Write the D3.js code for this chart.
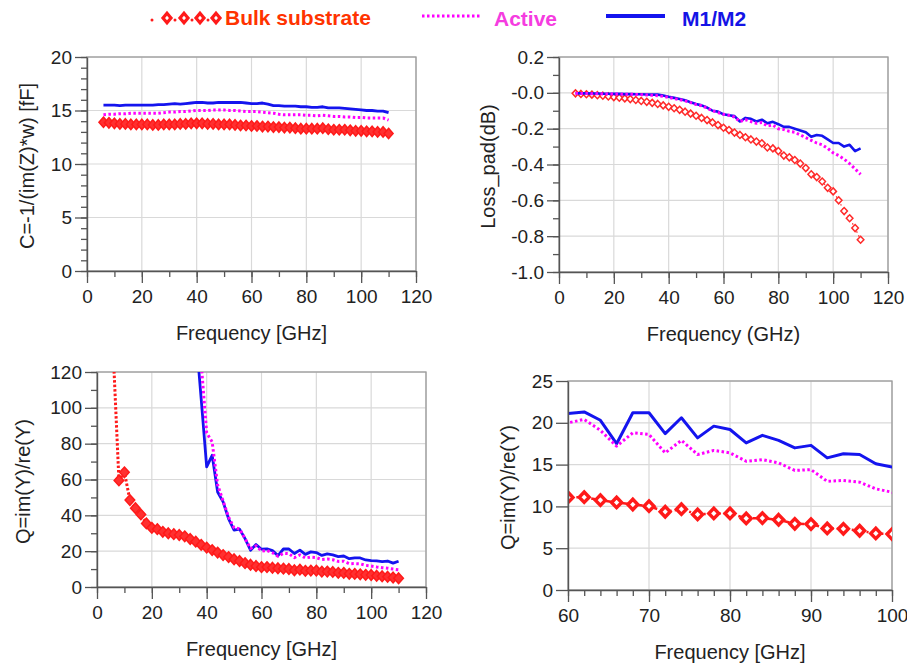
<!DOCTYPE html>
<html><head><meta charset="utf-8">
<script src="https://cdn.jsdelivr.net/npm/d3@7"></script>
<style>
body{margin:0;background:#fff}
svg{display:block}
text{font-family:Arial,"Liberation Sans",Helvetica,sans-serif}
</style>
</head><body>
<svg id="chart" width="907" height="664"></svg>
<script>
// ---------- data ----------
const seriesNames = ["Bulk substrate", "Active", "M1/M2"];
const freq = [6,8,10,12,14,16,18,20,22,24,26,28,30,32,34,36,38,40,42,44,46,48,50,52,54,56,58,60,62,64,66,68,70,72,74,76,78,80,82,84,86,88,90,92,94,96,98,100,102,104,106,108,110];

const capBulk = [13.9,13.85,13.8,13.75,13.75,13.7,13.7,13.7,13.7,13.65,13.65,13.7,13.7,13.7,13.75,13.75,13.8,13.8,13.8,13.75,13.75,13.7,13.7,13.7,13.65,13.6,13.6,13.55,13.55,13.5,13.5,13.45,13.45,13.4,13.4,13.35,13.3,13.3,13.3,13.3,13.35,13.25,13.2,13.2,13.2,13.15,13.1,13.1,13.05,13.05,13.0,13.0,12.85];
const capActive = [14.6,14.65,14.65,14.7,14.7,14.75,14.75,14.75,14.75,14.75,14.75,14.8,14.85,14.85,14.9,14.9,14.95,15.0,15.0,15.0,15.05,15.05,15.05,15.0,15.0,14.95,14.9,14.9,14.9,14.85,14.8,14.75,14.65,14.6,14.6,14.6,14.6,14.55,14.55,14.5,14.55,14.5,14.45,14.45,14.4,14.4,14.35,14.35,14.3,14.3,14.3,14.3,14.1];
const capM12 = [15.5,15.5,15.5,15.45,15.5,15.5,15.5,15.5,15.5,15.5,15.55,15.55,15.6,15.65,15.6,15.65,15.7,15.75,15.75,15.7,15.7,15.75,15.75,15.75,15.75,15.75,15.7,15.65,15.65,15.7,15.6,15.45,15.45,15.4,15.4,15.4,15.35,15.35,15.3,15.3,15.35,15.25,15.25,15.25,15.2,15.15,15.1,15.05,15.0,15.0,14.95,14.95,14.8];

const lossBulk = [-0.003,-0.006,-0.008,-0.01,-0.013,-0.016,-0.02,-0.024,-0.027,-0.031,-0.035,-0.04,-0.045,-0.05,-0.056,-0.062,-0.07,-0.078,-0.086,-0.095,-0.105,-0.116,-0.128,-0.14,-0.152,-0.165,-0.18,-0.195,-0.208,-0.222,-0.235,-0.248,-0.26,-0.272,-0.282,-0.305,-0.31,-0.325,-0.35,-0.36,-0.375,-0.395,-0.42,-0.455,-0.47,-0.495,-0.53,-0.55,-0.6,-0.66,-0.7,-0.755,-0.82];
const lossActive = [-0.003,-0.004,-0.004,-0.005,-0.005,-0.006,-0.006,-0.007,-0.007,-0.008,-0.008,-0.009,-0.01,-0.012,-0.014,-0.016,-0.02,-0.026,-0.032,-0.038,-0.045,-0.055,-0.065,-0.072,-0.085,-0.1,-0.11,-0.12,-0.125,-0.135,-0.16,-0.15,-0.16,-0.17,-0.165,-0.185,-0.18,-0.2,-0.205,-0.215,-0.22,-0.235,-0.25,-0.265,-0.28,-0.29,-0.31,-0.335,-0.35,-0.37,-0.395,-0.425,-0.455];
const lossM12 = [-0.002,-0.003,-0.003,-0.004,-0.004,-0.005,-0.005,-0.006,-0.006,-0.007,-0.007,-0.008,-0.008,-0.009,-0.01,-0.01,-0.015,-0.022,-0.028,-0.035,-0.042,-0.052,-0.062,-0.07,-0.082,-0.1,-0.105,-0.12,-0.125,-0.13,-0.16,-0.14,-0.145,-0.16,-0.15,-0.17,-0.162,-0.175,-0.19,-0.19,-0.2,-0.21,-0.22,-0.245,-0.235,-0.24,-0.26,-0.28,-0.28,-0.3,-0.29,-0.325,-0.31];

const qBulk = [128,59.5,64,48.5,44,40.5,35.5,33,32.3,30.8,30,29.5,29,28.3,26.8,25.3,23.5,22,20.6,19.2,17.8,16.7,15.5,14.5,13.3,12.4,11.7,11.07,11.1,10.75,10.47,10.23,10.03,9.36,9.67,9.04,9.16,9.16,8.56,8.6,8.4,7.92,7.88,7.36,7.32,7.09,6.77,6.69,6.3,6.0,5.7,5.3,4.9];
const qActive = [null,null,null,null,null,null,null,null,null,null,null,null,null,null,260,200,125,86,81,57,48,39,33,32.5,27,21.5,23,20.0,20.4,19.1,17.2,18.8,18.6,16.4,17.9,16.2,16.7,16.4,15.4,15.6,15.2,14.3,14.4,13.0,13.1,12.9,12.1,11.7,11.2,10.8,10.5,10.0,9.6];
const qM12 = [null,null,null,null,null,null,null,null,null,null,null,null,null,null,230,142,105,67,73.5,53,47.5,38,31.7,32.3,27,20.5,23.7,21.1,21.3,20.3,17.5,21.2,21.2,18.7,20.6,18.2,19.6,19.2,17.6,18.5,17.9,17.0,17.3,15.8,16.3,16.2,15.1,14.7,14.6,14.2,14.5,13.3,14.4];

const yTitles = ["C=-1/(im(Z)*w) [fF]", "Loss_pad(dB)", "Q=im(Y)/re(Y)", "Q=im(Y)/re(Y)"];
const xTitles = ["Frequency [GHz]", "Frequency (GHz)", "Frequency [GHz]", "Frequency [GHz]"];

// ---------- styles ----------
const RED = "#ff1a1a", MAG = "#ff00ff", BLUE = "#1414ee";
const svg = d3.select("#chart");
const diamond = (w, h) => `M0,${-h}L${w},0L0,${h}L${-w},0Z`;
const fmtLoss = d => d === 0 ? "-0.0" : (d < 0 ? "-" + Math.abs(d).toFixed(1) : d.toFixed(1));

let clipId = 0;
function panel(cfg) {
  const g = svg.append("g");
  const x = d3.scaleLinear().domain(cfg.xDomain).range([cfg.left, cfg.right]);
  const y = d3.scaleLinear().domain(cfg.yDomain).range([cfg.bottom, cfg.top]);
  const xMaj = x.ticks(cfg.xMajor), xMin = x.ticks(cfg.xMinor);
  const yMaj = y.ticks(cfg.yMajor), yMin = cfg.yMinor ? y.ticks(cfg.yMinor) : [];

  // grid
  g.append("g").selectAll("line").data(xMaj).join("line")
    .attr("x1", d => x(d)).attr("x2", d => x(d)).attr("y1", cfg.top).attr("y2", cfg.bottom)
    .attr("stroke", "#d9d9d9").attr("stroke-width", 1.2);
  g.append("g").selectAll("line").data(yMaj).join("line")
    .attr("y1", d => y(d)).attr("y2", d => y(d)).attr("x1", cfg.left).attr("x2", cfg.right)
    .attr("stroke", "#d9d9d9").attr("stroke-width", 1.2);
  // frame
  g.append("rect").attr("x", cfg.left).attr("y", cfg.top)
    .attr("width", cfg.right - cfg.left).attr("height", cfg.bottom - cfg.top)
    .attr("fill", "none").attr("stroke", "#9a9a9a").attr("stroke-width", 1.3);

  // data
  const id = "clip" + (clipId++);
  g.append("clipPath").attr("id", id).append("rect")
    .attr("x", cfg.left).attr("y", cfg.top)
    .attr("width", cfg.right - cfg.left).attr("height", cfg.bottom - cfg.top);
  const dg = g.append("g").attr("clip-path", `url(#${id})`);
  cfg.series.forEach(s => {
    const pts = freq.map((f, i) => [f, s.values[i]]).filter(d => d[1] !== null);
    const line = d3.line().x(d => x(d[0])).y(d => y(d[1]));
    if (s.line) {
      dg.append("path").attr("d", line(pts)).attr("fill", "none")
        .attr("stroke", s.color).attr("stroke-width", s.line.width)
        .attr("stroke-dasharray", s.line.dash || null)
        .attr("stroke-linejoin", "round");
    }
    if (s.marker) {
      const m = s.marker;
      dg.append("g").selectAll("path")
        .data(pts.filter(d => d[0] >= cfg.xDomain[0] && d[0] <= cfg.xDomain[1]))
        .join("path")
        .attr("transform", d => `translate(${x(d[0])},${y(d[1])})`)
        .attr("d", diamond(m.w, m.h))
        .attr("fill", m.fill).attr("stroke", s.color).attr("stroke-width", m.sw);
    }
  });

  // axes
  const styleAxis = sel => {
    sel.attr("color", "#555");
    sel.selectAll("text").attr("fill", "#222").style("font-size", "19px")
      .style("font-family", 'Arial,"Liberation Sans",sans-serif');
    sel.selectAll("line").attr("stroke-width", 1.3);
    sel.select(".domain").attr("stroke-width", 1.4);
  };
  g.append("g").attr("transform", `translate(0,${cfg.bottom})`)
    .call(d3.axisBottom(x).tickValues(xMin).tickSize(6).tickFormat("").tickSizeOuter(0))
    .call(styleAxis).call(a => a.select(".domain").remove());
  g.append("g").attr("transform", `translate(${cfg.left},0)`)
    .call(d3.axisLeft(y).tickValues(yMin).tickSize(6).tickFormat("").tickSizeOuter(0))
    .call(styleAxis).call(a => a.select(".domain").remove());
  g.append("g").attr("transform", `translate(0,${cfg.bottom})`)
    .call(d3.axisBottom(x).tickValues(xMaj).tickSize(12).tickPadding(6.5).tickSizeOuter(0)
      .tickFormat(d3.format("d")))
    .call(styleAxis);
  g.append("g").attr("transform", `translate(${cfg.left},0)`)
    .call(d3.axisLeft(y).tickValues(yMaj).tickSize(12).tickPadding(3).tickSizeOuter(0)
      .tickFormat(cfg.yFormat || d3.format("d")))
    .call(styleAxis);

  // titles
  g.append("text").attr("x", (cfg.left + cfg.right) / 2).attr("y", cfg.bottom + 69)
    .attr("text-anchor", "middle").style("font-size", "20px").attr("fill", "#222")
    .text(cfg.xTitle);
  g.append("text")
    .attr("transform", `translate(${cfg.yTitleX},${(cfg.top + cfg.bottom) / 2 + 2}) rotate(-90)`)
    .attr("text-anchor", "middle").attr("dominant-baseline", "central")
    .style("font-size", "20px").attr("fill", "#222")
    .text(cfg.yTitle);
}

const magLine = { width: 3, dash: "2.5,2.5" };
const blueLine = { width: 2.8 };

panel({
  left: 87, right: 416, top: 57, bottom: 271,
  xDomain: [0, 120], yDomain: [0, 20], xMajor: 6, xMinor: 12, yMajor: 4, yMinor: 20,
  xTitle: xTitles[0], yTitle: yTitles[0], yTitleX: 27,
  series: [
    { values: capBulk, color: RED, line: { width: 1.5, dash: "2,2" }, marker: { w: 4.5, h: 5.2, fill: "#ff3030", sw: 1.5 } },
    { values: capM12, color: BLUE, line: blueLine },
    { values: capActive, color: MAG, line: magLine }
  ]
});

panel({
  left: 559, right: 888, top: 57, bottom: 272,
  xDomain: [0, 120], yDomain: [-1, 0.2], xMajor: 6, xMinor: 12, yMajor: 6, yMinor: 12,
  yFormat: fmtLoss,
  xTitle: xTitles[1], yTitle: yTitles[1], yTitleX: 488,
  series: [
    { values: lossBulk, color: "#ff2a2a", line: { width: 1.2, dash: "1.5,3" }, marker: { w: 3.3, h: 3.5, fill: "#fff", sw: 1.5 } },
    { values: lossM12, color: BLUE, line: { width: 2.6 } },
    { values: lossActive, color: MAG, line: magLine }
  ]
});

panel({
  left: 97, right: 426, top: 372, bottom: 587,
  xDomain: [0, 120], yDomain: [0, 120], xMajor: 6, xMinor: 12, yMajor: 6, yMinor: 12,
  xTitle: xTitles[2], yTitle: yTitles[2], yTitleX: 23,
  series: [
    { values: qBulk, color: RED, line: { width: 3, dash: "2.5,2" }, marker: { w: 4.8, h: 5.3, fill: "#ff3030", sw: 1.5 } },
    { values: qM12, color: BLUE, line: blueLine },
    { values: qActive, color: MAG, line: magLine }
  ]
});

panel({
  left: 568, right: 892, top: 381, bottom: 590,
  xDomain: [60, 100], yDomain: [0, 25], xMajor: 4, xMinor: 20, yMajor: 5, yMinor: 0,
  xTitle: xTitles[3], yTitle: yTitles[3], yTitleX: 508,
  series: [
    { values: qBulk, color: RED, line: { width: 2.5, dash: "7,3,2,3" }, marker: { w: 5, h: 5.2, fill: "#fff", sw: 3.4 } },
    { values: qM12, color: BLUE, line: { width: 3 } },
    { values: qActive, color: MAG, line: magLine }
  ]
});

// ---------- legend ----------
const lg = svg.append("g");
const legDiamonds = [167, 184, 200, 216];
const legDots = [152, 175, 192, 208];
lg.selectAll(".ld").data(legDots).join("circle").attr("cx", d => d).attr("cy", 20).attr("r", 1.5).attr("fill", RED);
lg.selectAll(".lm").data(legDiamonds).join("path")
  .attr("transform", d => `translate(${d},18)`).attr("d", diamond(4, 4.8))
  .attr("fill", "#fff").attr("stroke", RED).attr("stroke-width", 3.2);
lg.append("text").attr("x", 225).attr("y", 25).text(seriesNames[0])
  .style("font-size", "21px").style("font-weight", "bold").attr("fill", "#ff3300");
lg.append("line").attr("x1", 422).attr("x2", 480).attr("y1", 16).attr("y2", 16)
  .attr("stroke", MAG).attr("stroke-width", 3).attr("stroke-dasharray", "2.5,2.5");
lg.append("text").attr("x", 494).attr("y", 26).text(seriesNames[1])
  .style("font-size", "21px").style("font-weight", "bold").attr("fill", "#f53ce0");
lg.append("line").attr("x1", 606).attr("x2", 665).attr("y1", 16).attr("y2", 16)
  .attr("stroke", BLUE).attr("stroke-width", 4);
lg.append("text").attr("x", 682).attr("y", 26).text(seriesNames[2])
  .style("font-size", "21px").style("font-weight", "bold").attr("fill", "#1414e6");
</script>
</body></html>
